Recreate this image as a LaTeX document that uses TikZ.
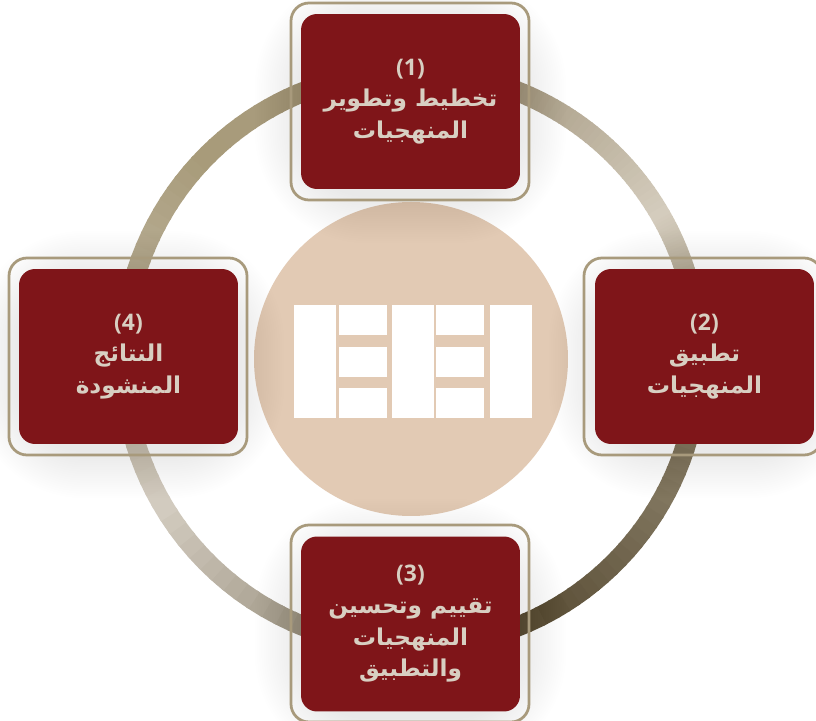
\documentclass[tikz,border=0pt]{standalone}
\usepackage{fontspec}
\newfontfamily\arabicfont[Script=Arabic]{DejaVu Sans}
\newfontfamily\numfont{Open Sans}
\TeXXeTstate=1
\definecolor{boxred}{HTML}{7F1519}
\definecolor{framebrown}{HTML}{A89A7C}
\definecolor{textbeige}{HTML}{D8CFC2}
\definecolor{discbeige}{HTML}{E2CAB4}
\definecolor{ringa}{HTML}{A89B7A}
\definecolor{ringe}{HTML}{A89C84}
\definecolor{ringb}{HTML}{D4CCBD}
\definecolor{ringf}{HTML}{AAA08A}
\definecolor{ringc}{HTML}{5F533B}
\definecolor{ringd}{HTML}{D2CBBF}
\def\ringpart[#1:#2](#3)(#4){\foreach \i in {0,...,29}{
	\pgfmathsetmacro{\mixval}{100-\i*100/29}
	\pgfmathsetmacro{\from}{#1+(#2-#1)*\i/30}
	\pgfmathsetmacro{\to}{#1+(#2-#1)*(\i+1.2)/30}
	\colorlet{ringtmp}{#3!\mixval!#4}
	\draw[line width=0.4cm, ringtmp] ({411+288*cos(\from)},{362+288*sin(\from)}) arc (\from:\to:288);
}}
\def\softshadow(#1,#2)(#3,#4){\foreach \k in {0,...,21}{
	\pgfmathsetmacro{\rad}{1.3+0.044*\k}
	\fill[black, opacity=0.0055, rounded corners=\rad cm] ({#1-2.2*\k},{#2-8-2.2*\k}) rectangle ({#3+2.2*\k},{#4-8+2.2*\k});
}}
\tikzset{
	frame/.style={draw=framebrown, line width=0.055cm, rounded corners=0.36cm},
	redbox/.style={fill=boxred, text=textbeige, rounded corners=0.32cm, minimum width=4.38cm, minimum height=3.5cm, align=center, font=\arabicfont\bfseries\fontsize{13.2}{18}\selectfont, inner sep=0pt},
}
\newcommand{\numtext}[1]{{\numfont\bfseries\fontsize{13}{18}\selectfont(#1)}}
\begin{document}
\begin{tikzpicture}[x=0.02cm, y=0.02cm]
	%%%%% START %%%%%
	\useasboundingbox (0, 0) rectangle (816, 721);
	\fill[white] (0, 0) rectangle (816, 721);

	\ringpart[135:70](ringa)(ringe);
	\ringpart[70:30](ringe)(ringb);
	\ringpart[30:10](ringb)(ringf);
	\ringpart[10:-60](ringf)(ringc);
	\ringpart[-60:-150](ringc)(ringd);
	\ringpart[-150:-225](ringd)(ringa);

	\draw[fill=discbeige, draw=none] (411, 362) circle (157);

	\fill[white] (294, 303) rectangle (336, 416);
	\fill[white] (339, 386) rectangle (387, 416);
	\fill[white] (339, 344) rectangle (387, 374);
	\fill[white] (339, 303) rectangle (387, 333);
	\fill[white] (392, 303) rectangle (434, 416);
	\fill[white] (436, 386) rectangle (484, 416);
	\fill[white] (436, 344) rectangle (484, 374);
	\fill[white] (436, 303) rectangle (484, 333);
	\fill[white] (490, 303) rectangle (532, 416);

	\softshadow(301, 532)(520, 707)
	\softshadow(595, 277)(814, 452)
	\softshadow(301, 10)(520, 184)
	\softshadow(19, 277)(238, 452)

	\draw[frame] (291, 521) rectangle (529, 718);
	\draw[frame] (584, 266) rectangle (822, 463);
	\draw[frame] (291, -1) rectangle (529, 196);
	\draw[frame] (9, 266) rectangle (247, 463);

	\node[redbox] (plan) at (410.5, 619.5) {\numtext{1}\\\beginR تخطيط وتطوير\endR\\\beginR المنهجيات\endR};
	\node[redbox] (apply) at (704.5, 364.5) {\numtext{2}\\\beginR تطبيق\endR\\\beginR المنهجيات\endR};
	\node[redbox] (review) at (410.5, 97) {\numtext{3}\\\beginR تقييم وتحسين\endR\\\beginR المنهجيات\endR\\\beginR والتطبيق\endR};
	\node[redbox] (result) at (128.5, 364.5) {\numtext{4}\\\beginR النتائج\endR\\\beginR المنشودة\endR};
	%%%%% END %%%%%
\end{tikzpicture}
\end{document}
